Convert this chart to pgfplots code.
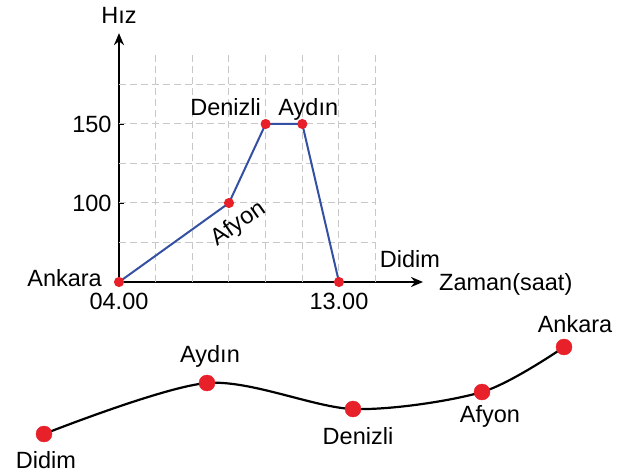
\documentclass[border=0pt]{standalone}
\usepackage{pgfplots}
\pgfplotsset{compat=1.18}
\usepackage{fontspec}
\setmainfont{Liberation Sans}
\usetikzlibrary{arrows.meta}
\definecolor{lineblue}{HTML}{3350A3}
\definecolor{dotred}{HTML}{E8202A}
\definecolor{gridgray}{HTML}{C8C8C8}
\begin{document}
\begin{tikzpicture}[font=\fontsize{23.5}{28}\selectfont]
\useasboundingbox (0,0) rectangle (625pt,475pt);
\begin{axis}[
  at={(119pt,193pt)}, anchor=south west,
  x=24.44pt, y=39.5pt,
  xmin=4, xmax=16.44, ymin=0, ymax=6.3,
  enlargelimits=false,
  axis lines=left,
  axis line style={line width=2pt, -{Stealth[length=12pt,width=10pt]}},
  xtick={4,13}, xticklabels={04.00,13.00},
  ytick={1,2,3,4,5}, yticklabels={,100,,150,},
  xtick style={draw=none},
  ytick style={black, line width=1.2pt},
  major tick length=5pt,
  tick align=inside,
  xticklabel style={yshift=-8pt},
  yticklabel style={xshift=-4pt},
  clip=false,
]
\pgfplotsinvokeforeach{5.5,7,8.5,10,11.5,13,14.5}{
  \draw[gridgray, line width=1pt, dash pattern=on 7pt off 4pt] (axis cs:#1,0) -- (axis cs:#1,5.75);
}
\pgfplotsinvokeforeach{1,2,3,4,5}{
  \draw[gridgray, line width=1pt, dash pattern=on 7pt off 4pt] (axis cs:4,#1) -- (axis cs:14.5,#1);
}
\addplot[lineblue, line width=2pt, mark=*, mark size=4pt,
  mark options={fill=dotred, draw=dotred, solid}]
  coordinates {(4,0) (8.5,2) (10,4) (11.5,4) (13,0)};
\begin{scope}[every node/.style={inner sep=0pt}]
\node[anchor=east] at (axis cs:4,0) [xshift=-17pt, yshift=4pt] {Ankara};
\node at (axis cs:10,4) [xshift=-40pt, yshift=16.5pt] {Denizli};
\node at (axis cs:11.5,4) [xshift=6pt, yshift=15pt] {Aydın};
\node[rotate=35] at (axis cs:8.5,2) [xshift=-3.9pt, yshift=-22.9pt] {Afyon};
\node at (axis cs:13,0) [xshift=71pt, yshift=23pt] {Didim};
\node[anchor=west] at (axis cs:13,0) [xshift=100pt, yshift=-2.5pt] {Zaman(saat)};
\node at (axis cs:4,6.3) [yshift=17.5pt] {Hız};
\end{scope}
\end{axis}
\begin{axis}[
  at={(0pt,0pt)}, anchor=south west,
  x=1pt, y=1pt, xmin=0, xmax=625, ymin=0, ymax=475,
  hide axis, clip=false,
]
\addplot[black, line width=2.2pt, smooth] coordinates {(44,41) (207,92) (353,66) (482,83) (564,128)};
\addplot[only marks, mark=*, mark size=8pt, mark options={fill=dotred, draw=dotred}]
  coordinates {(44,41) (207,92) (353,66) (482,83) (564,128)};
\begin{scope}[every node/.style={inner sep=0pt}]
\node at (axis cs:44,41) [xshift=2pt, yshift=-26pt] {Didim};
\node at (axis cs:207,92) [xshift=3pt, yshift=26.5pt] {Aydın};
\node at (axis cs:353,66) [xshift=5pt, yshift=-27pt] {Denizli};
\node at (axis cs:482,83) [xshift=8pt, yshift=-24pt] {Afyon};
\node at (axis cs:564,128) [xshift=11pt, yshift=23pt] {Ankara};
\end{scope}
\end{axis}
\end{tikzpicture}
\end{document}
